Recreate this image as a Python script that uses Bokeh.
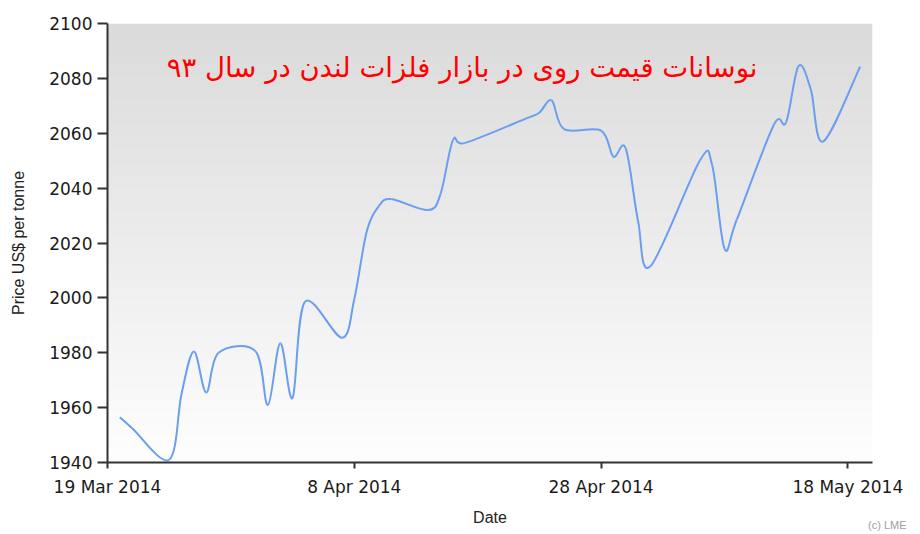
import numpy as np
import pandas as pd
from bokeh.plotting import figure
from bokeh.models import Range1d, FixedTicker, Label
from bokeh.embed import file_html
from bokeh.resources import INLINE

# ---- data ----
dates = ["2014-03-20", "2014-03-21", "2014-03-24", "2014-03-25", "2014-03-26",
         "2014-03-27", "2014-03-28", "2014-03-31", "2014-04-01", "2014-04-02",
         "2014-04-03", "2014-04-04", "2014-04-07", "2014-04-08", "2014-04-09",
         "2014-04-10", "2014-04-11", "2014-04-14", "2014-04-15", "2014-04-16",
         "2014-04-17", "2014-04-22", "2014-04-23", "2014-04-24", "2014-04-25",
         "2014-04-28", "2014-04-29", "2014-04-30", "2014-05-01", "2014-05-02",
         "2014-05-06", "2014-05-07", "2014-05-08", "2014-05-09", "2014-05-12",
         "2014-05-13", "2014-05-14", "2014-05-15", "2014-05-16", "2014-05-19"]
prices = [1956.5, 1952.5, 1941.0, 1965.0, 1980.5,
          1965.5, 1980.0, 1980.5, 1961.0, 1983.5,
          1963.5, 1998.5, 1985.5, 1999.5, 2024.0,
          2033.5, 2036.0, 2032.0, 2038.0, 2057.5,
          2056.5, 2065.5, 2067.5, 2072.0, 2061.5,
          2061.0, 2051.5, 2054.5, 2028.0, 2011.5,
          2050.0, 2048.5, 2018.0, 2028.5, 2063.0,
          2064.0, 2084.5, 2076.0, 2057.0, 2084.3]

x_tick_dates = ["2014-03-19", "2014-04-08", "2014-04-28", "2014-05-18"]
x_tick_labels = ["19 Mar 2014", "8 Apr 2014", "28 Apr 2014", "18 May 2014"]
y_ticks = [1940, 1960, 1980, 2000, 2020, 2040, 2060, 2080, 2100]

x_start_date = "2014-03-19"
x_end_date = "2014-05-20"
y_start, y_end = 1940, 2100

title_text = "نوسانات قیمت روی در بازار فلزات لندن در سال ۹۳"
x_label = "Date"
y_label = "Price US$ per tonne"
credit = "(c) LME"


def to_ms(s):
    return float(pd.Timestamp(s).value // 10**6)


xs = np.array([to_ms(d) for d in dates])
ys = np.array(prices, dtype=float)
x0r, x1r = to_ms(x_start_date), to_ms(x_end_date)

p = figure(x_axis_type="datetime",
           frame_width=765, frame_height=439,
           min_border_left=107, min_border_right=40,
           min_border_top=23, min_border_bottom=71,
           x_range=Range1d(x0r, x1r), y_range=Range1d(y_start, y_end),
           output_backend="svg", toolbar_location=None)

p.background_fill_color = "white"
p.border_fill_color = "white"
p.outline_line_color = None
p.xgrid.grid_line_color = None
p.ygrid.grid_line_color = None

# vertical gradient background of the plot area
N = 256
img = np.empty((N, 1), dtype=np.uint32)
view = img.view(dtype=np.uint8).reshape((N, 1, 4))
vals = np.linspace(254, 219, N).astype(np.uint8)
view[:, 0, 0] = vals
view[:, 0, 1] = vals
view[:, 0, 2] = vals
view[:, 0, 3] = 255
p.image_rgba(image=[img], x=x0r, y=y_start, dw=x1r - x0r, dh=y_end - y_start)

# smooth curve (Catmull-Rom through the data points, drawn as bezier segments)
n = len(xs)
i = np.arange(n - 1)
im1 = np.clip(i - 1, 0, n - 1)
ip1 = i + 1
ip2 = np.clip(i + 2, 0, n - 1)
cx0 = xs[i] + (xs[ip1] - xs[im1]) / 6.0
cy0 = ys[i] + (ys[ip1] - ys[im1]) / 6.0
cx1 = xs[ip1] - (xs[ip2] - xs[i]) / 6.0
cy1 = ys[ip1] - (ys[ip2] - ys[i]) / 6.0
p.bezier(x0=xs[i], y0=ys[i], x1=xs[ip1], y1=ys[ip1],
         cx0=cx0, cy0=cy0, cx1=cx1, cy1=cy1,
         line_color="#6a9ef0", line_width=2)

# axes
tick_font = "DejaVu Sans"
for ax in (p.xaxis[0], p.yaxis[0]):
    ax.axis_line_color = "#333333"
    ax.axis_line_width = 2
    ax.major_tick_line_color = "#333333"
    ax.major_tick_line_width = 2
    ax.major_tick_in = 0
    ax.minor_tick_line_color = None
    ax.major_label_text_font = tick_font
    ax.major_label_text_font_size = "17px"
    ax.major_label_text_color = "#1a1a1a"
    ax.axis_label_text_font = "Liberation Sans"
    ax.axis_label_text_font_size = "16px"
    ax.axis_label_text_font_style = "normal"
    ax.axis_label_text_color = "#222222"

p.yaxis.ticker = FixedTicker(ticks=y_ticks)
p.yaxis.major_tick_out = 10
p.yaxis.major_label_standoff = 5
p.yaxis.axis_label = y_label
p.yaxis.axis_label_standoff = 19

x_ticks = [to_ms(d) for d in x_tick_dates]
p.xaxis.ticker = FixedTicker(ticks=x_ticks)
p.xaxis.major_label_overrides = {t: lab for t, lab in zip(x_ticks, x_tick_labels)}
p.xaxis.major_tick_out = 6
p.xaxis.major_label_standoff = 8
p.xaxis.axis_label = x_label
p.xaxis.axis_label_standoff = 9

# title inside plot area
p.add_layout(Label(x=650, y=396, x_units="screen", y_units="screen",
                   text=title_text, text_align="right", text_baseline="middle",
                   text_color="red", text_font="DejaVu Sans",
                   text_font_size="27.5px"))
# credit (placed in the bottom side panel so it is not clipped to the frame)
p.add_layout(Label(x=799, y=16, x_units="screen", y_units="screen",
                   text=credit, text_align="right", text_baseline="alphabetic",
                   text_color="#a0a0a0", text_font="Liberation Sans",
                   text_font_size="11px"), "below")

open("out.html", "w").write(file_html(p, INLINE))
